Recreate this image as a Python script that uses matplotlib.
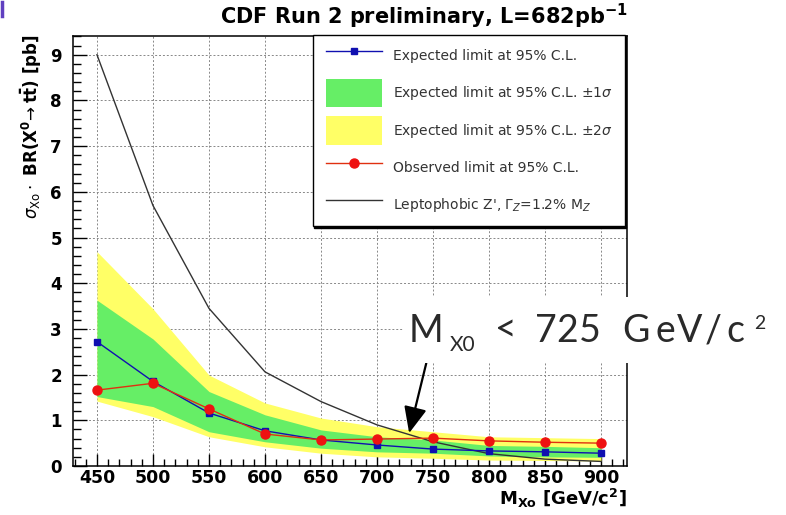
import numpy as np
import matplotlib
matplotlib.use("Agg")
import matplotlib.pyplot as plt
from matplotlib.ticker import MultipleLocator
from matplotlib.lines import Line2D
from matplotlib.patches import Rectangle
from matplotlib.collections import PolyCollection
from matplotlib.legend_handler import HandlerLine2D, HandlerPolyCollection

plt.rcParams['mathtext.fontset'] = 'dejavusans'

# values (pb)
mass = [450, 500, 550, 600, 650, 700, 750, 800, 850, 900]
expected = [2.72, 1.85, 1.16, 0.77, 0.57, 0.46, 0.37, 0.33, 0.31, 0.28]
observed = [1.66, 1.81, 1.25, 0.70, 0.57, 0.59, 0.61, 0.55, 0.52, 0.50]
exp_p1 = [3.63, 2.78, 1.63, 1.12, 0.79, 0.64, 0.57, 0.45, 0.43, 0.40]
exp_m1 = [1.52, 1.30, 0.75, 0.53, 0.39, 0.31, 0.28, 0.22, 0.20, 0.19]
exp_p2 = [4.69, 3.44, 1.99, 1.38, 1.05, 0.86, 0.75, 0.64, 0.62, 0.60]
exp_m2 = [1.42, 1.08, 0.64, 0.42, 0.28, 0.20, 0.17, 0.13, 0.12, 0.11]
zprime = [9.0, 5.7, 3.45, 2.06, 1.41, 0.90, 0.53, 0.27, 0.15, 0.10]

labels = ["Expected limit at 95% C.L.",
          r"Expected limit at 95% C.L. $\pm1\sigma$",
          r"Expected limit at 95% C.L. $\pm2\sigma$",
          "Observed limit at 95% C.L.",
          r"Leptophobic Z', $\Gamma_{Z}$=1.2% M$_{Z}$"]

W, H = 786, 515
fig = plt.figure(figsize=(W / 100, H / 100), dpi=100)
ax = fig.add_axes([73 / W, 1 - 466 / H, 554 / W, 430 / H])

y2 = ax.fill_between(mass, exp_m2, exp_p2, color='#ffff66', lw=0, zorder=1)
y1 = ax.fill_between(mass, exp_m1, exp_p1, color='#66ee66', lw=0, zorder=2)
le, = ax.plot(mass, expected, color='#1010b0', lw=1, marker='s', ms=4, zorder=4)
lo, = ax.plot(mass, observed, color='#e03010', lw=1, marker='o', ms=6.5,
              mfc='#ee1111', mec='#ee1111', zorder=5)
lz, = ax.plot(mass, zprime, color='#333333', lw=1, zorder=3)

ax.set_xlim(428.6, 923.2)
ax.set_ylim(0, 9.41)
ax.xaxis.set_major_locator(MultipleLocator(50))
ax.xaxis.set_minor_locator(MultipleLocator(10))
ax.yaxis.set_major_locator(MultipleLocator(1))
ax.yaxis.set_minor_locator(MultipleLocator(0.2))
ax.grid(True, which='major', color='#888888', ls=(0, (2, 2)), lw=0.7, zorder=0)
ax.set_axisbelow(True)
ax.tick_params(axis='x', which='major', direction='in', length=8.5, width=1,
               labelsize=12.5, pad=2)
ax.tick_params(axis='x', which='minor', direction='in', length=5, width=1)
ax.tick_params(axis='y', which='major', direction='in', length=10, width=1,
               labelsize=12, pad=8)
ax.tick_params(axis='y', which='minor', direction='in', length=5.5, width=1)
for lab in ax.get_xticklabels() + ax.get_yticklabels():
    lab.set_fontweight('bold')
for s in ax.spines.values():
    s.set_linewidth(1.1)

hm = {Line2D: HandlerLine2D(numpoints=1, xpad=0.45),
      PolyCollection: HandlerPolyCollection(xpad=0.45)}
leg = ax.legend([le, y1, y2, lo, lz], labels, loc='upper left',
                bbox_to_anchor=(313 / W, 1 - 223 / H, 312 / W, 188 / H),
                bbox_transform=fig.transFigure, mode='expand',
                prop={'size': 10}, handlelength=4.48, handleheight=2.75,
                labelspacing=0.65, handletextpad=0.8, borderpad=0.5,
                borderaxespad=0, fancybox=False, framealpha=1,
                edgecolor='black',
                shadow={'ox': 0.6, 'oy': -1.3, 'color': 'black', 'alpha': 1},
                handler_map=hm)
leg.get_frame().set_linewidth(1)
for t in leg.get_texts():
    t.set_color('#333333')

fig.text(424 / W, 1 - 24 / H, r"CDF Run 2 preliminary, L=682pb$^{\mathbf{-1}}$",
         ha='center', va='baseline', fontsize=15, fontweight='bold')
fig.text(31 / W, 1 - 127 / H,
         r"$\sigma_{\mathrm{Xo}}\cdot$ BR(X$^{\mathbf{0}}\!\rightarrow\mathbf{t\bar{t}}$) [pb]",
         rotation=90, ha='center', va='center', fontsize=12, fontweight='bold')
fig.text(627 / W, 1 - 505 / H, r"M$_{\mathbf{Xo}}$ [GeV/c$^{\mathbf{2}}$]",
         ha='right', va='baseline', fontsize=13, fontweight='bold')

# limit annotation pasted over the plot, glyphs spread like the slide text
fig.add_artist(Rectangle((403 / W, 1 - 363 / H), (W - 403) / W, 66 / H,
                         transform=fig.transFigure, facecolor='white',
                         edgecolor='none', zorder=5))
glyphs = [("M", 426, 342, 27), ("X0", 463, 351, 15), ("<", 506, 342, 27),
          ("7", 546, 342, 27), ("2", 567, 342, 27), ("5", 590, 342, 27),
          ("G", 636, 342, 27), ("e", 665, 342, 27), ("V", 690, 342, 27),
          ("/", 713, 342, 27), ("c", 735, 342, 27), ("2", 760, 329, 14)]
for ch, gx, gy, fs in glyphs:
    fig.text(gx / W, 1 - gy / H, ch, ha='center', va='baseline', fontsize=fs,
             family='Lato', color='#2a2a2a', zorder=6)
ax.annotate('', xy=(728.7, 0.72), xytext=(744, 2.25),
            arrowprops=dict(arrowstyle='-|>,head_length=0.8,head_width=0.35',
                            color='black', lw=1.6, mutation_scale=20,
                            shrinkA=0, shrinkB=0), zorder=7)

fig.add_artist(Line2D([2 / W, 2 / W], [1 - 2 / H, 1 - 16 / H], color='#6040c0', lw=2.5))

fig.savefig('out.png', dpi=100)
